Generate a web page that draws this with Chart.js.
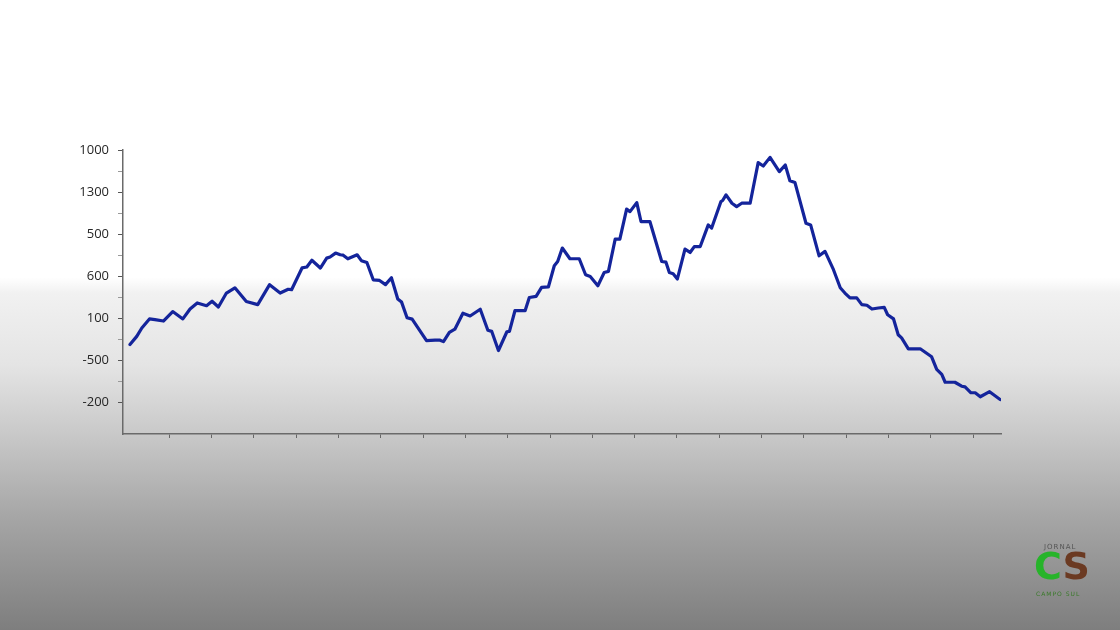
<!DOCTYPE html>
<html>
<head>
<meta charset="utf-8">
<script src="https://cdn.jsdelivr.net/npm/chart.js@4"></script>
<style>
  html, body { margin: 0; padding: 0; }
  body {
    width: 1120px; height: 630px; overflow: hidden; position: relative;
    background: linear-gradient(to bottom, #ffffff 0%, #ffffff 44%, #f1f1f1 46.5%, #e4e4e4 58%, #cbcbcb 68%, #a6a6a6 82%, #7e7e7e 100%);
  }
  #wrap { position: absolute; left: 0; top: 0; width: 1120px; height: 630px; }
  #logo { position: absolute; left: 1032px; top: 540px; width: 80px; height: 60px; font-family: "DejaVu Sans", sans-serif; }
  #logo .top { position: absolute; left: 12px; top: 3px; font-size: 7px; color: #555; letter-spacing: 1px; }
  #logo .cs { position: absolute; left: 2px; top: 6px; font-size: 38px; font-weight: bold; line-height: 40px; }
  #logo .c { color: #27b42a; }
  #logo .s { color: #6b3a22; }
  #logo .bot { position: absolute; left: 4px; top: 50px; font-size: 6px; color: #3a7a2a; letter-spacing: 1px; }
</style>
</head>
<body>
<div id="wrap"><canvas id="chart" width="1120" height="630"></canvas></div>
<div id="logo"><span class="top">JORNAL</span><span class="cs"><span class="c">C</span><span class="s">S</span></span><span class="bot">CAMPO SUL</span></div>
<script>
// x positions of the line's vertices (axis units, ticks every 10)
const days = [
  0.7, 2.3, 3.5, 5.3, 6.6, 8.6, 10.8, 13.2, 14.9, 16.6, 18.8, 20.1, 21.6, 23.5, 25.5, 28.2, 30.9, 33.7,
  36.2, 38.1, 38.9, 41.4, 42.5, 43.7, 45.7, 47.2, 48.0, 49.3, 50.4, 51.1, 52.2, 54.4, 55.4, 56.7,
  58.2, 59.7, 61.1, 62.5, 64.0, 64.9, 66.2, 67.4, 70.8, 72.8, 74.0, 74.8, 76.2, 77.5, 79.4, 81.1,
  83.5, 85.3, 86.2, 87.8, 89.8, 90.4, 91.7, 94.1, 95.1, 96.7, 98.0, 99.6, 101.0, 101.8, 102.9,
  104.7, 106.9, 108.4, 109.5, 111.3, 112.8, 113.8, 115.4, 116.5, 118.1, 118.9, 120.5, 121.5, 123.6,
  126.4, 127.4, 128.2, 129.1, 130.1, 131.9, 133.1, 134.1, 135.5, 137.4, 138.2, 140.4, 140.8, 141.6,
  143.0, 144.1, 145.3, 147.3, 149.2, 150.4, 152.0, 154.2, 155.6, 156.7, 157.9, 160.5, 161.6, 163.6,
  165.0, 167.0, 168.6, 169.7, 170.9, 172.5, 173.7, 174.9, 176.1, 177.6, 179.0, 179.8, 181.2, 182.3,
  183.1, 184.7, 187.5, 190.2, 191.4, 192.6, 193.4, 195.7, 197.3, 198.1, 199.5, 200.5, 201.7, 203.9, 206.4
];
const values = [
  75, 114, 154, 197, 194, 187, 232, 197, 244, 273, 260, 281, 254, 320, 345, 280, 265, 360,
  320, 338, 336, 440, 444, 476, 439, 486, 491, 510, 502, 500, 483, 502, 474, 465,
  383, 380, 360, 393, 292, 277, 203, 196, 94, 96, 96, 89, 133, 148, 224, 211,
  243, 143, 138, 47, 136, 138, 236, 236, 299, 304, 347, 349, 450, 470, 534,
  483, 483, 407, 399, 355, 418, 423, 576, 576, 719, 707, 750, 660, 660,
  470, 467, 418, 412, 387, 529, 513, 541, 541, 644, 629, 755, 760, 787,
  747, 731, 747, 747, 940, 924, 965, 897, 929, 854, 845, 652, 644, 497,
  518, 431, 345, 320, 297, 297, 265, 262, 244, 249, 252, 217, 197, 122,
  107, 55, 55, 17, -43, -67, -104, -104, -123, -126, -154, -154, -173, -149, -186
];
// tick labels as printed on the picture, bottom to top
const yTickValues = [-200, 0, 200, 400, 600, 800, 1000];
const yTickLabels = ['-200', '-500', '100', '600', '500', '1300', '1000'];

const points = days.map((d, i) => ({ x: d, y: values[i] }));

new Chart(document.getElementById('chart'), {
  type: 'line',
  data: {
    datasets: [{
      data: points,
      borderColor: '#14249b',
      borderWidth: 3.2,
      borderJoinStyle: 'round',
      borderCapStyle: 'round',
      pointRadius: 0,
      tension: 0,
      fill: false
    }]
  },
  options: {
    responsive: false,
    animation: false,
    events: [],
    layout: { padding: { top: 150, right: 119, bottom: 0, left: 0 } },
    plugins: { legend: { display: false }, tooltip: { enabled: false } },
    scales: {
      x: {
        type: 'linear',
        min: -0.95,
        max: 206.6,
        afterBuildTicks: scale => {
          const t = [];
          for (let v = 10; v <= 200; v += 10) t.push({ value: v });
          scale.ticks = t;
        },
        afterFit: scale => { scale.height = 196; },
        ticks: { display: false },
        grid: { drawOnChartArea: false, drawTicks: true, tickLength: 4, color: '#666', lineWidth: 1 },
        border: { display: true, color: '#6a6a6a', width: 1.5 }
      },
      y: {
        min: -350,
        max: 1000,
        afterBuildTicks: scale => {
          const t = [];
          for (let v = -200; v <= 1000; v += 100) t.push({ value: v });
          scale.ticks = t;
        },
        afterFit: scale => { scale.width = 123; },
        ticks: {
          padding: 9,
          color: '#262626',
          font: { family: 'Open Sans', size: 13 },
          callback: v => {
            const i = yTickValues.indexOf(v);
            return i >= 0 ? yTickLabels[i] : '';
          }
        },
        grid: {
          drawOnChartArea: false,
          drawTicks: true,
          tickLength: 5,
          color: ctx => (yTickValues.indexOf(ctx.tick && ctx.tick.value) >= 0 ? '#555' : '#999'),
          lineWidth: 1
        },
        border: { display: true, color: '#6a6a6a', width: 1.5 }
      }
    }
  }
});
</script>
</body>
</html>
